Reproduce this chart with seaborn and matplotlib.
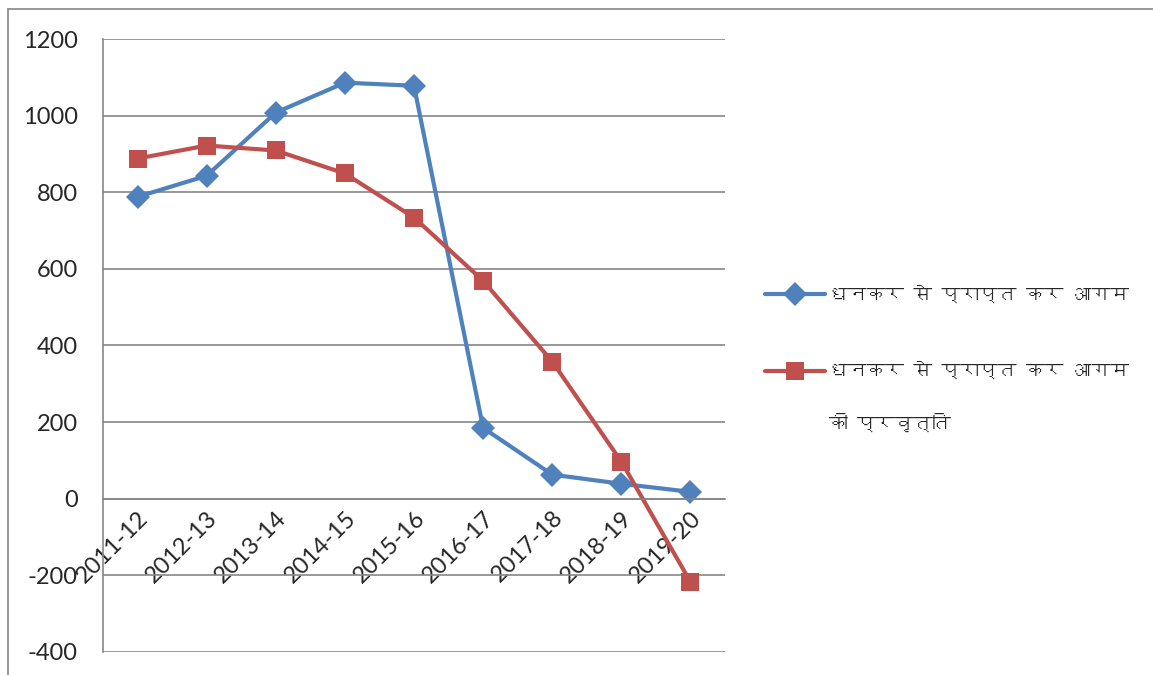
import numpy as np
import pandas as pd
import seaborn as sns
import matplotlib
matplotlib.use("Agg")
import matplotlib.pyplot as plt
from matplotlib import font_manager
from matplotlib.ft2font import FT2Font
from matplotlib.lines import Line2D

years = ["2011-12", "2012-13", "2013-14", "2014-15", "2015-16",
         "2016-17", "2017-18", "2018-19", "2019-20"]
revenue = [788, 843, 1008, 1086, 1078, 185, 63, 39, 18]
trend = [888, 922, 909, 849, 734, 569, 358, 97, -217]
labels = ["धनकर से प्राप्त कर आगम", "धनकर से प्राप्त कर आगम"]
label2_extra = "की प्रवृत्ति"

# find any installed font that has Devanagari glyphs
deva = []
for f in font_manager.fontManager.ttflist:
    try:
        if 0x0927 in FT2Font(f.fname).get_charmap():
            deva.append(f.name)
    except Exception:
        pass
deva = list(dict.fromkeys(deva))

sns.set_style("white")
plt.rcParams["font.family"] = ["Lato", "DejaVu Sans"]
plt.rcParams["axes.unicode_minus"] = False

df = pd.DataFrame({
    "pos": list(range(len(years))) * 2,
    "value": revenue + trend,
    "series": ["a"] * len(years) + ["b"] * len(years),
})

fig = plt.figure(figsize=(11.53, 6.75), dpi=100)
ax = fig.add_axes([0.0893, 0.0341, 0.5395, 0.9081])

sns.lineplot(data=df, x="pos", y="value", hue="series", style="series",
             markers=["D", "s"], dashes=False, sort=False,
             palette=["#4F81BD", "#C0504D"], linewidth=3,
             markersize=12.5, markeredgewidth=0, ax=ax)

ax.set_xlim(-0.5, len(years) - 0.5)
ax.set_ylim(-400, 1200)
ax.set_yticks(range(-400, 1201, 200))
ax.yaxis.grid(True, color="#868686", linewidth=1.2)
ax.set_axisbelow(True)
ax.set_xlabel("")
ax.set_ylabel("")

for s in ["top", "right"]:
    ax.spines[s].set_visible(False)
ax.spines["left"].set_color("#868686")
ax.spines["left"].set_linewidth(1.2)
ax.spines["bottom"].set_position(("data", 0))
ax.spines["bottom"].set_color("#868686")
ax.spines["bottom"].set_linewidth(1.2)

ax.set_xticks(range(len(years)))
ax.set_xticklabels(years, rotation=45, ha="right", va="top",
                   rotation_mode="anchor", fontsize=17)
ax.set_xticks(np.arange(-0.5, len(years)), minor=True)
ax.tick_params(axis="x", which="major", length=0, pad=6)
ax.tick_params(axis="x", which="minor", length=7, color="#868686", width=1.2)
ax.tick_params(axis="y", length=7, color="#868686", width=1.2, labelsize=17, pad=11)

handles, _ = ax.get_legend_handles_labels()
fam = deva + ["DejaVu Sans"]
leg = ax.legend(handles, labels, loc="center left", bbox_to_anchor=(1.064, 0.522),
                frameon=False, borderaxespad=0, borderpad=0,
                handlelength=3.2, handletextpad=0.2, labelspacing=3.1,
                prop={"family": fam, "size": 13.5})

# second line of the second legend label, placed under it
fig.canvas.draw()
bb = leg.get_texts()[1].get_window_extent().transformed(fig.transFigure.inverted())
fig.text(bb.x0, bb.y0 - 0.05, label2_extra, ha="left", va="top",
         fontsize=13.5, family=fam)

# chart border: top and left edges only
fig.add_artist(Line2D([0.007, 1.0], [0.986, 0.986], transform=fig.transFigure,
                      color="#868686", linewidth=1.2))
fig.add_artist(Line2D([0.007, 0.007], [0.0, 0.986], transform=fig.transFigure,
                      color="#868686", linewidth=1.2))

fig.savefig("out.png", dpi=100)
